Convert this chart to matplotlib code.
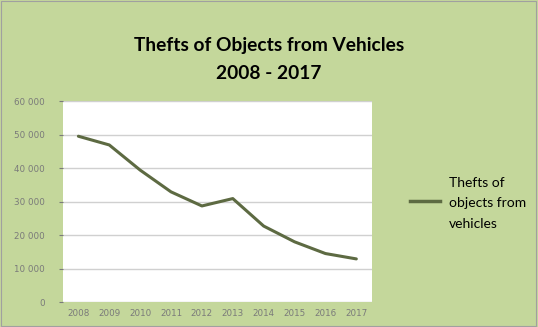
import matplotlib.pyplot as plt
from matplotlib.patches import Rectangle
from matplotlib.lines import Line2D

years = ["2008", "2009", "2010", "2011", "2012", "2013", "2014", "2015", "2016", "2017"]
thefts = [49500, 46900, 39400, 32900, 28700, 30900, 22700, 18000, 14500, 12900]
series_label = "Thefts of\nobjects from\nvehicles"
yticks = [0, 10000, 20000, 30000, 40000, 50000, 60000]
ytick_labels = ["0", "10 000", "20 000", "30 000", "40 000", "50 000", "60 000"]

bg = "#c4d79b"
line_col = "#5d6a42"

fig = plt.figure(figsize=(5.38, 3.27), dpi=100, facecolor=bg)
ax = fig.add_axes([0.117, 0.076, 0.574, 0.615])
ax.set_facecolor("white")

x = list(range(len(years)))
ax.plot(x, thefts, color=line_col, lw=2.2, solid_capstyle="round")

ax.set_xlim(-0.5, len(years) - 0.5)
ax.set_ylim(0, 60000)
ax.set_xticks(x)
ax.set_xticklabels(years)
ax.set_yticks(yticks)
ax.set_yticklabels(ytick_labels)
ax.grid(axis="y", color="#d0d0d0", lw=1)
ax.set_axisbelow(True)
for s in ax.spines.values():
    s.set_visible(False)
ax.tick_params(axis="both", labelsize=6.3, colors="#7a7a7a", length=3, width=0.8)
ax.tick_params(axis="x", length=0, pad=5)
ax.tick_params(axis="y", pad=10)

fig.text(0.5, 0.862, "Thefts of Objects from Vehicles", ha="center", va="center",
         fontsize=13.8, fontweight="bold", family="Lato")
fig.text(0.5, 0.775, "2008 - 2017", ha="center", va="center",
         fontsize=13.8, fontweight="bold", family="Lato")

# legend
fig.add_artist(Line2D([0.763, 0.818], [0.385, 0.385], color=line_col, lw=2.5))
fig.text(0.834, 0.378, series_label, ha="left", va="center", fontsize=10,
         family="Lato", linespacing=1.85)

fig.add_artist(Rectangle((0.002, 0.003), 0.995, 0.994, transform=fig.transFigure,
                         fill=False, edgecolor="#a0a0a0", lw=0.8))

fig.savefig("out.png", dpi=100, facecolor=bg)
